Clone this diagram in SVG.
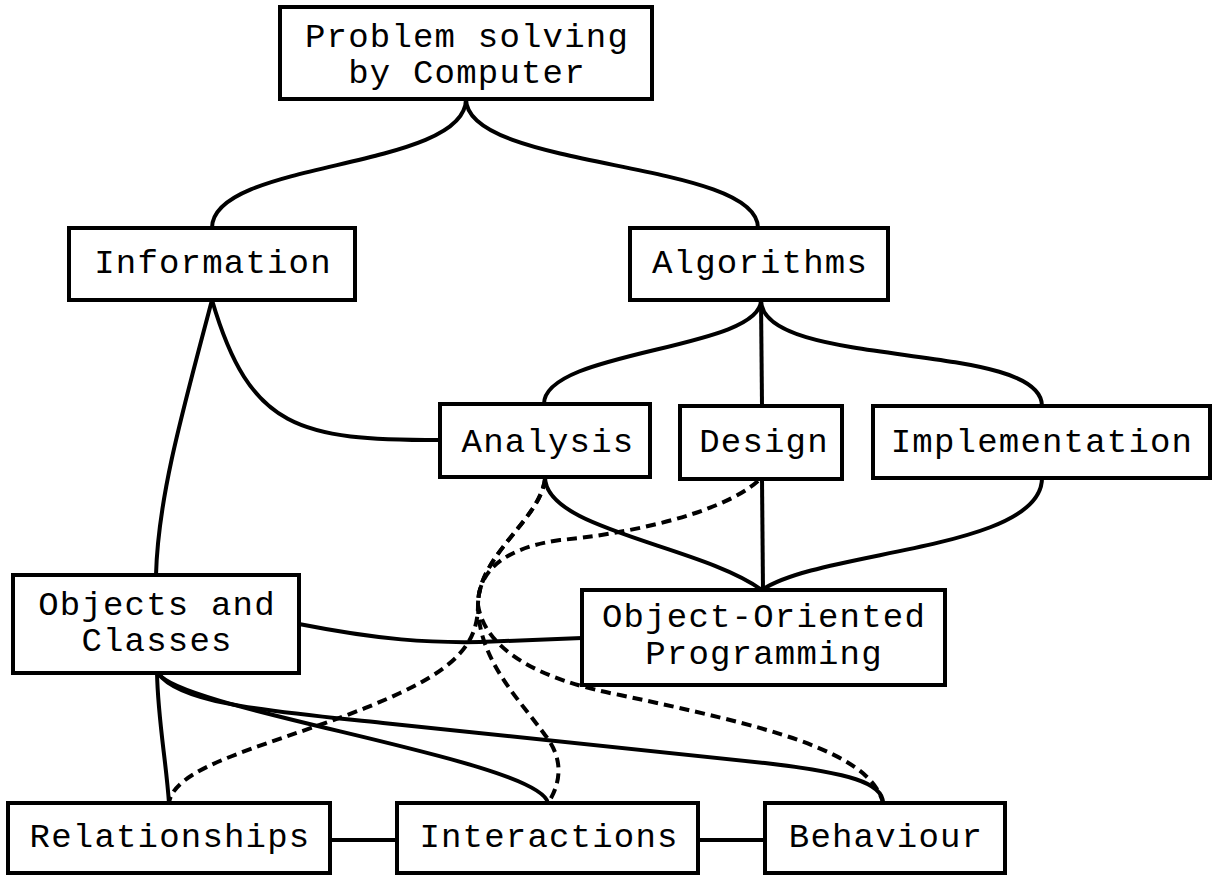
<svg xmlns="http://www.w3.org/2000/svg" width="1212" height="875" viewBox="0 0 1212 875">
  <style>
    .box { fill: #ffffff; stroke: #000000; stroke-width: 4; }
    .lbl { font-family: "Liberation Mono", "Courier New", monospace; font-size: 34px; letter-spacing: 1.2px; fill: #000000; text-anchor: middle; }
    .edge { fill: none; stroke: #000000; stroke-width: 4; }
    .dash { fill: none; stroke: #000000; stroke-width: 4; stroke-dasharray: 10 6; }
  </style>
  <rect width="1212" height="875" fill="#ffffff"/>

  <!-- connectors -->
  <g id="connectors">
    <path class="edge" d="M466,99 C466,170 212,160 212,228"/>
    <path class="edge" d="M466,99 C466,170 758,160 758,228"/>
    <path class="edge" d="M212,300 C180,420 158,500 156,575"/>
    <path class="edge" d="M212,300 C250,430 300,440 440,440"/>
    <path class="edge" d="M761,300 C761,350 544,350 544,404"/>
    <path class="edge" d="M761,300 L762,406"/>
    <path class="edge" d="M761,300 C761,370 1042,340 1042,406"/>
    <path class="edge" d="M545,477 C545,530 700,545 762,590"/>
    <path class="edge" d="M762,479 L763,590"/>
    <path class="edge" d="M1042,478 C1042,550 820,550 762,590"/>
    <path class="edge" d="M299,624 C380,640 430,643 480,642 L582,638"/>
    <path class="edge" d="M157,673 C158,720 166,760 169,803"/>
    <path class="edge" d="M158,673 C180,710 540,760 548,803"/>
    <path class="edge" d="M158,673 C180,705 280,712 383,723 L765,763 C850,773 883,783 883,803"/>
    <path class="edge" d="M330,840 L397,840"/>
    <path class="edge" d="M698,840 L765,840"/>
    <!-- dashed dependencies -->
    <path class="dash" d="M758,481 C720,515 620,535 560,540 C505,548 478,570 478,605 C478,640 460,665 400,693 C300,740 175,760 169,803"/>
    <path class="dash" d="M545,479 C540,520 478,555 478,605 C478,660 520,700 545,735 C565,760 560,785 548,803"/>
    <path class="dash" d="M545,479 C540,520 478,555 478,605 C485,650 540,680 620,695 C760,725 870,750 883,803"/>
  </g>

  <g id="problem">
    <rect class="box" x="280" y="7" width="372" height="92"/>
    <text class="lbl" x="467" y="47">Problem solving</text>
    <text class="lbl" x="467" y="83">by Computer</text>
  </g>
  <g id="information">
    <rect class="box" x="69" y="228" width="286" height="72"/>
    <text class="lbl" x="213" y="273">Information</text>
  </g>
  <g id="algorithms">
    <rect class="box" x="630" y="228" width="258" height="72"/>
    <text class="lbl" x="760" y="273">Algorithms</text>
  </g>
  <g id="analysis">
    <rect class="box" x="440" y="404" width="210" height="73"/>
    <text class="lbl" x="548" y="452">Analysis</text>
  </g>
  <g id="design">
    <rect class="box" x="680" y="406" width="162" height="73"/>
    <text class="lbl" x="764" y="452">Design</text>
  </g>
  <g id="implementation">
    <rect class="box" x="873" y="406" width="337" height="72"/>
    <text class="lbl" x="1042" y="452">Implementation</text>
  </g>
  <g id="objects">
    <rect class="box" x="13" y="575" width="286" height="98"/>
    <text class="lbl" x="157" y="615">Objects and</text>
    <text class="lbl" x="157" y="651">Classes</text>
  </g>
  <g id="oop">
    <rect class="box" x="582" y="590" width="363" height="95"/>
    <text class="lbl" x="764" y="627">Object-Oriented</text>
    <text class="lbl" x="764" y="664">Programming</text>
  </g>
  <g id="relationships">
    <rect class="box" x="8" y="803" width="322" height="70"/>
    <text class="lbl" x="170" y="847">Relationships</text>
  </g>
  <g id="interactions">
    <rect class="box" x="397" y="803" width="301" height="70"/>
    <text class="lbl" x="549" y="847">Interactions</text>
  </g>
  <g id="behaviour">
    <rect class="box" x="765" y="803" width="240" height="70"/>
    <text class="lbl" x="886" y="847">Behaviour</text>
  </g>
</svg>
